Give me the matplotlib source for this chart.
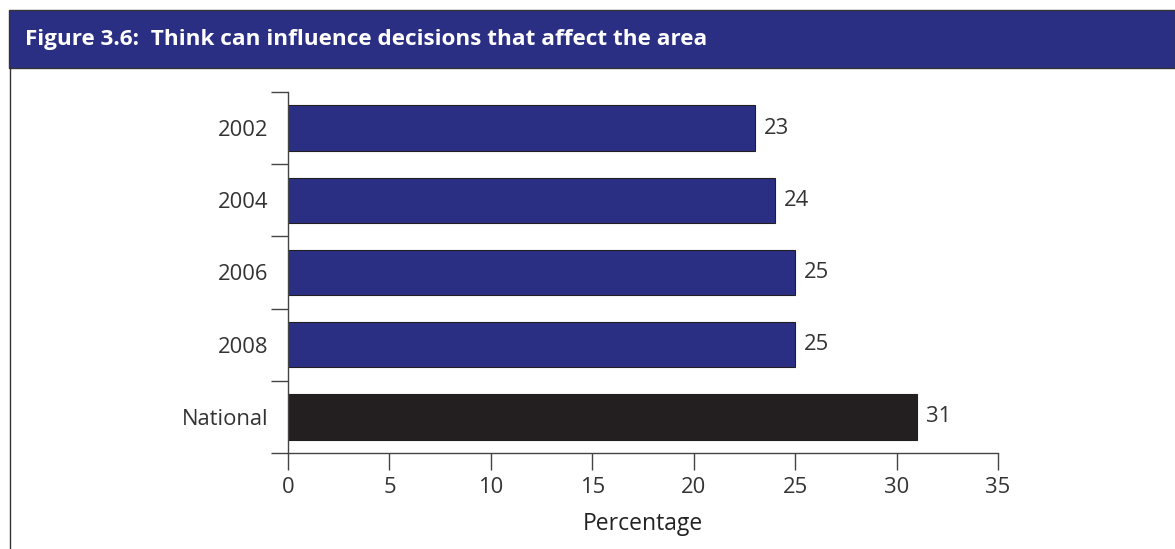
import matplotlib
matplotlib.use("Agg")
import matplotlib.pyplot as plt
from matplotlib.patches import Rectangle
from matplotlib.lines import Line2D

plt.rcParams['font.family'] = ['Open Sans', 'DejaVu Sans']

categories = ["2002", "2004", "2006", "2008", "National"]
values = [23, 24, 25, 25, 31]
bar_colors = ["#2b2f84", "#2b2f84", "#2b2f84", "#2b2f84", "#231f20"]
x_ticks = [0, 5, 10, 15, 20, 25, 30, 35]
title = "Figure 3.6:  Think can influence decisions that affect the area"
x_label = "Percentage"

W, H = 1175, 549
fig = plt.figure(figsize=(W / 100, H / 100), dpi=100)

# header band and frame
fig.patches.append(Rectangle((9 / W, 1 - 68 / H), 1 - 9 / W, 58 / H,
                             transform=fig.transFigure, facecolor="#2b2f84",
                             edgecolor="#333333", linewidth=1.0))
fig.lines.append(Line2D([9.5 / W, 9.5 / W], [0, 1 - 68 / H],
                        transform=fig.transFigure, color="#333333", linewidth=1.0))
fig.text(25 / W, 1 - 39 / H, title, color="white", fontsize=16.2,
         fontweight="bold", va="center", ha="left")

ax = fig.add_axes([288 / W, 1 - 453 / H, 710 / W, 361 / H])
y = list(range(len(categories)))
ax.barh(y, values, height=0.63, color=bar_colors,
        edgecolor="#231f20", linewidth=0.8)
ax.set_ylim(len(categories) - 0.5, -0.5)
ax.set_xlim(0, 35)

for yi, v in zip(y, values):
    ax.text(v + 0.45, yi, f"{v}", va="center", ha="left",
            fontsize=15.8, color="#333333")

ax.set_yticks(y)
ax.set_yticklabels(categories)
ax.set_yticks([i - 0.5 for i in range(len(categories) + 1)], minor=True)
ax.tick_params(axis="y", which="major", length=0, pad=14,
               labelsize=15.8, labelcolor="#333333")
ax.tick_params(axis="y", which="minor", length=12, width=1.0,
               color="#444444", direction="out")
ax.set_xticks(x_ticks)
ax.tick_params(axis="x", length=12, width=1.0, color="#444444",
               direction="out", labelsize=15.8, labelcolor="#333333", pad=5)
ax.set_xlabel(x_label, fontsize=16.5, color="#222222", labelpad=10)

for side in ["top", "right"]:
    ax.spines[side].set_visible(False)
for side in ["left", "bottom"]:
    ax.spines[side].set_color("#444444")
    ax.spines[side].set_linewidth(1.0)

fig.savefig("out.png", dpi=100)
